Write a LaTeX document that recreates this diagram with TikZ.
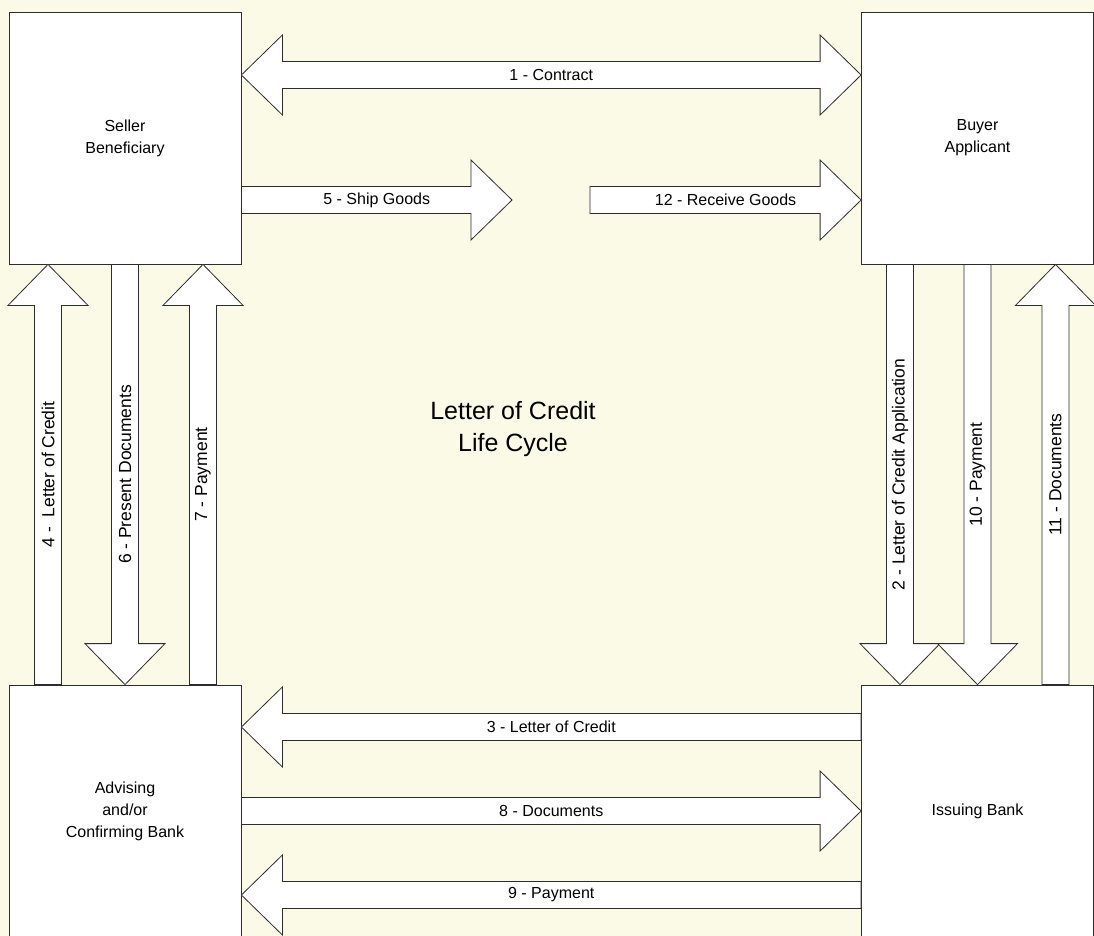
\documentclass[tikz,border=0pt]{standalone}
\usepackage{fontspec}
\setmainfont{Liberation Sans}
\usetikzlibrary{calc}
\definecolor{paper}{RGB}{250,250,230}
\definecolor{edge}{RGB}{45,45,45}
\tikzset{
  party/.style={draw=edge, fill=white, line width=0.8pt, minimum width=232pt,
    minimum height=252pt, inner sep=0pt, align=center,
    font=\fontsize{16}{22}\selectfont},
  flowarrow/.style={draw=edge, fill=white, line width=0.8pt, line join=miter},
  flowlabel/.style={inner sep=0pt, font=\fontsize{16}{18}\selectfont},
  uplabel/.style={rotate=90, font=\fontsize{17.5}{18}\selectfont}
}
\newcommand{\flow}[4][]{%
  \coordinate (fa) at (#2);
  \coordinate (fb) at (#3);
  \coordinate (fh) at ($(fb)!41pt!(fa)$);
  \draw[flowarrow] ($(fa)!13.5pt!90:(fb)$) -- ($(fh)!13.5pt!90:(fb)$)
    -- ($(fh)!40pt!90:(fb)$) -- (fb) -- ($(fh)!40pt!-90:(fb)$)
    -- ($(fh)!13.5pt!-90:(fb)$) -- ($(fa)!13.5pt!-90:(fb)$) -- cycle;
  \node[flowlabel, #1] at ($(fa)!0.5!(fb)$) {#4};
}
\newcommand{\twoway}[3]{%
  \coordinate (fa) at (#1);
  \coordinate (fb) at (#2);
  \coordinate (fh) at ($(fb)!41pt!(fa)$);
  \coordinate (fg) at ($(fa)!41pt!(fb)$);
  \draw[flowarrow] (fa) -- ($(fg)!40pt!90:(fb)$) -- ($(fg)!13.5pt!90:(fb)$)
    -- ($(fh)!13.5pt!-90:(fa)$) -- ($(fh)!40pt!-90:(fa)$) -- (fb)
    -- ($(fh)!40pt!90:(fa)$) -- ($(fh)!13.5pt!90:(fa)$)
    -- ($(fg)!13.5pt!-90:(fb)$) -- ($(fg)!40pt!-90:(fb)$) -- cycle;
  \node[flowlabel] at ($(fa)!0.5!(fb)$) {#3};
}
\begin{document}
\begin{tikzpicture}[x=1pt, y=-1pt]
  \fill[paper] (0,0) rectangle (1094,936);
  \useasboundingbox (0,0) rectangle (1094,936);

  \node[party] (seller) at (125,138) {Seller\\Beneficiary};
  \node[party] (buyer) at (977.5,138) {Buyer\\Applicant};
  \node[party] (advise) at (125,811) {Advising\\and/or\\Confirming Bank};
  \node[party] (issue) at (977.5,811) {Issuing Bank};

  \node[align=center, font=\fontsize{25}{32}\selectfont] (title) at (513,429)
    {Letter of Credit\\Life Cycle};

  \coordinate (shipend) at (512,200);
  \coordinate (recvstart) at (590,200);

  \twoway{[yshift=63pt]seller.east}{[yshift=63pt]buyer.west}{1 - Contract}
  \flow{[yshift=-62pt]seller.east}{shipend}{5 - Ship Goods}
  \flow{recvstart}{[yshift=-62pt]buyer.west}{12 - Receive Goods}

  \flow[uplabel]{[xshift=-77pt]advise.north}{[xshift=-77pt]seller.south}{4 -\ \ Letter of Credit}
  \flow[uplabel]{seller.south}{advise.north}{6 - Present Documents}
  \flow[uplabel]{[xshift=78pt]advise.north}{[xshift=78pt]seller.south}{7 - Payment}

  \flow[uplabel]{[xshift=-77.5pt]buyer.south}{[xshift=-77.5pt]issue.north}{2 - Letter of Credit Application}
  \flow[uplabel]{buyer.south}{issue.north}{10 - Payment}
  \flow[uplabel]{[xshift=78pt]issue.north}{[xshift=78pt]buyer.south}{11 - Documents}

  \flow{[yshift=84pt]issue.west}{[yshift=84pt]advise.east}{3 - Letter of Credit}
  \flow{advise.east}{issue.west}{8 - Documents}
  \flow{[yshift=-84pt]issue.west}{[yshift=-84pt]advise.east}{9 - Payment}
\end{tikzpicture}
\end{document}
